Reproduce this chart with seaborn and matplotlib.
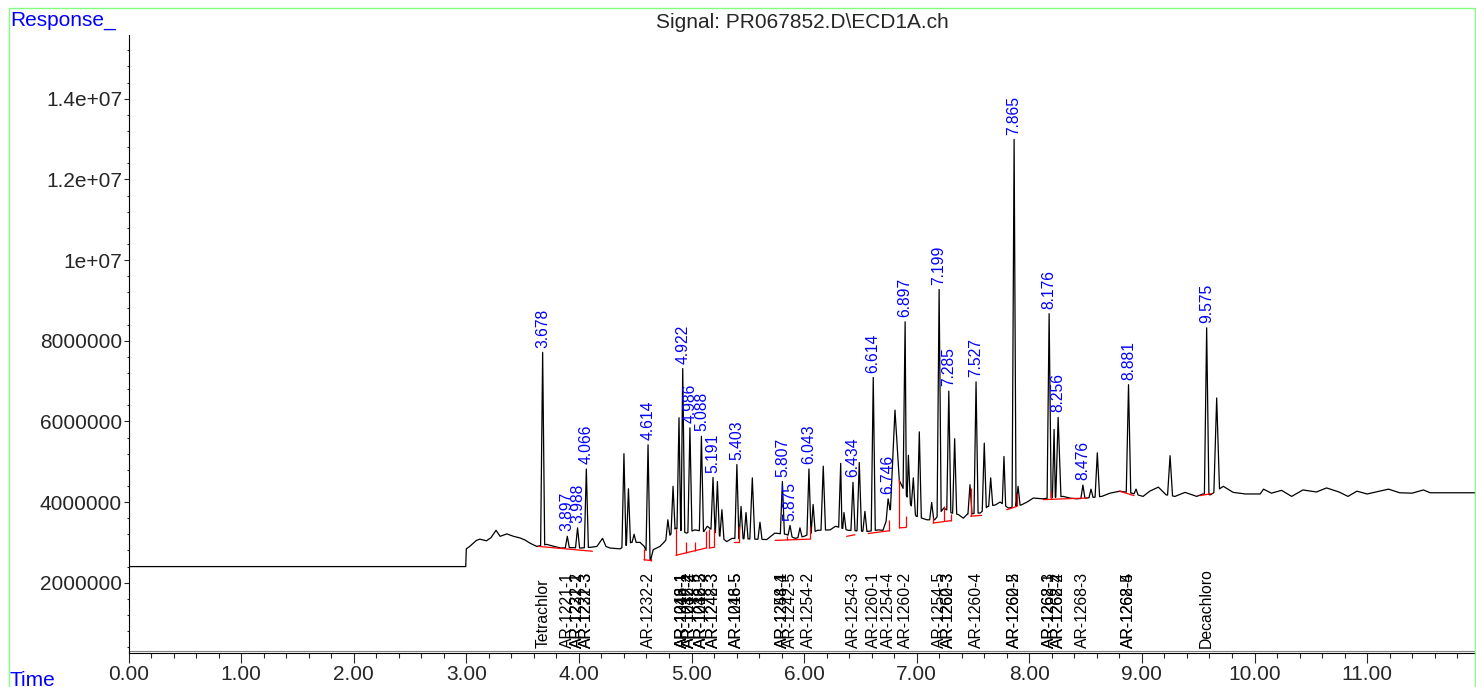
import numpy as np
import pandas as pd
import matplotlib
matplotlib.use("Agg")
import matplotlib.pyplot as plt
import matplotlib.ticker as mticker
import matplotlib.transforms as mtrans
from matplotlib.patches import Rectangle
import seaborn as sns

# ---- data (response in millions) ----
# peaks: retention time (min), apex response, half width at base (min)
peak_rt = [3.678, 3.897, 3.988, 4.066, 4.40, 4.44, 4.49, 4.614, 4.79, 4.836,
           4.889, 4.922, 4.986, 5.088, 5.191, 5.23, 5.27, 5.403, 5.44, 5.484,
           5.54, 5.608, 5.807, 5.875, 5.963, 6.043, 6.08, 6.17, 6.325, 6.354,
           6.434, 6.49, 6.54, 6.614, 6.746, 6.807, 6.897, 6.926, 6.97, 7.023,
           7.133, 7.199, 7.285, 7.337, 7.473, 7.527, 7.60, 7.657, 7.775, 7.865,
           7.90, 8.176, 8.22, 8.256, 8.476, 8.548, 8.604, 8.881, 8.948, 9.25,
           9.575, 9.664]
peak_height = [7.71, 3.15, 3.36, 4.82, 5.20, 4.33, 3.20, 5.42, 3.56, 4.39,
               6.09, 7.31, 5.84, 5.63, 4.61, 4.51, 3.81, 4.93, 3.89, 3.74,
               4.60, 3.50, 4.51, 3.42, 3.36, 4.82, 3.94, 4.89, 4.96, 3.74,
               4.49, 4.98, 3.77, 7.09, 4.08, 6.28, 8.47, 5.16, 4.60, 5.74,
               3.99, 9.27, 6.75, 5.57, 4.43, 6.98, 5.46, 4.60, 5.13, 12.99,
               4.39, 8.67, 5.80, 6.10, 4.42, 4.32, 5.22, 6.91, 4.32, 5.15,
               8.32, 6.58]
peak_halfwidth = [0.018, 0.018, 0.018, 0.018, 0.018, 0.018, 0.018, 0.018, 0.018, 0.018,
                  0.018, 0.018, 0.018, 0.018, 0.018, 0.018, 0.018, 0.018, 0.018, 0.018,
                  0.022, 0.018, 0.018, 0.018, 0.018, 0.018, 0.018, 0.020, 0.018, 0.018,
                  0.018, 0.020, 0.018, 0.018, 0.018, 0.040, 0.018, 0.018, 0.018, 0.018,
                  0.018, 0.018, 0.018, 0.018, 0.018, 0.018, 0.018, 0.018, 0.015, 0.018,
                  0.018, 0.018, 0.015, 0.025, 0.018, 0.018, 0.020, 0.020, 0.018, 0.022,
                  0.020, 0.025]

# trace level between peaks
base_t = [0.0, 2.995, 3.0, 3.03, 3.09, 3.12, 3.18, 3.22, 3.264, 3.30, 3.36, 3.42,
          3.477, 3.52, 3.566, 3.625, 3.714, 3.78, 3.84, 3.936, 4.02, 4.11, 4.16,
          4.21, 4.24, 4.276, 4.365, 4.465, 4.543, 4.58, 4.636, 4.66, 4.72, 4.755,
          4.86, 4.955, 5.03, 5.11, 5.14, 5.313, 5.36, 5.668, 5.74, 5.84, 5.92,
          6.0, 6.12, 6.23, 6.28, 6.39, 6.56, 6.66, 6.70, 6.852, 6.995, 7.09,
          7.16, 7.24, 7.31, 7.37, 7.414, 7.45, 7.565, 7.63, 7.70, 7.74, 7.815,
          7.93, 7.98, 8.036, 8.12, 8.30, 8.36, 8.42, 8.51, 8.643, 8.717, 8.805,
          8.91, 9.01, 9.07, 9.146, 9.214, 9.294, 9.383, 9.487, 9.54, 9.61,
          9.723, 9.81, 9.92, 10.05, 10.08, 10.15, 10.24, 10.33, 10.43, 10.55,
          10.64, 10.75, 10.83, 10.91, 11.0, 11.19, 11.29, 11.4, 11.5, 11.56, 11.97]
base_r = [2.40, 2.40, 2.84, 2.90, 3.05, 3.08, 3.04, 3.12, 3.30, 3.15, 3.21, 3.15,
          3.11, 3.06, 2.98, 2.90, 2.95, 2.90, 2.86, 2.87, 2.86, 2.88, 2.90,
          3.10, 2.90, 2.86, 2.84, 3.00, 3.00, 2.90, 2.55, 2.82, 2.90, 3.00,
          3.35, 3.23, 3.31, 3.27, 3.40, 3.02, 3.10, 3.07, 3.23, 3.20, 3.10,
          3.15, 3.30, 3.31, 3.40, 3.30, 3.27, 3.31, 3.30, 4.50, 3.65, 3.56,
          3.56, 3.85, 3.73, 3.69, 3.60, 3.70, 3.73, 3.89, 3.93, 4.00, 3.85,
          3.93, 4.00, 4.10, 4.08, 4.14, 4.10, 4.08, 4.10, 4.14, 4.22, 4.27,
          4.22, 4.14, 4.27, 4.37, 4.18, 4.14, 4.24, 4.14, 4.20, 4.18,
          4.39, 4.24, 4.20, 4.20, 4.32, 4.22, 4.29, 4.14, 4.30, 4.25,
          4.35, 4.25, 4.14, 4.27, 4.20, 4.32, 4.23, 4.22, 4.30, 4.23, 4.23]

# retention times printed above peaks
labelled_rt = [3.678, 3.897, 3.988, 4.066, 4.614, 4.922, 4.986, 5.088, 5.191,
               5.403, 5.807, 5.875, 6.043, 6.434, 6.614, 6.746, 6.897, 7.199,
               7.285, 7.527, 7.865, 8.176, 8.256, 8.476, 8.881, 9.575]

# compound names along the bottom
comp_rt = [3.678, 3.897, 3.988, 3.988, 4.066, 4.066, 4.614,
           4.922, 4.922, 4.922, 4.986, 4.986, 4.986, 5.088, 5.088, 5.088,
           5.191, 5.191, 5.403, 5.403, 5.807, 5.807, 5.875, 6.043, 6.434,
           6.614, 6.746, 6.897, 7.199, 7.285, 7.285, 7.527, 7.865, 7.865,
           8.176, 8.176, 8.256, 8.256, 8.476, 8.881, 8.881, 9.575]
comp_name = ["Tetrachlor", "AR-1221-1", "AR-1221-2", "AR-1232-1", "AR-1221-3", "AR-1232-3", "AR-1232-2",
             "AR-1016-1", "AR-1242-1", "AR-1248-1", "AR-1016-2", "AR-1232-4", "AR-1242-2",
             "AR-1016-3", "AR-1232-5", "AR-1248-2", "AR-1242-3", "AR-1248-3",
             "AR-1016-5", "AR-1248-5", "AR-1248-4", "AR-1254-1", "AR-1242-5", "AR-1254-2",
             "AR-1254-3", "AR-1260-1", "AR-1254-4", "AR-1260-2", "AR-1254-5",
             "AR-1260-3", "AR-1262-3", "AR-1260-4", "AR-1260-5", "AR-1262-2",
             "AR-1262-3", "AR-1268-1", "AR-1262-4", "AR-1268-2", "AR-1268-3",
             "AR-1262-5", "AR-1268-4", "Decachloro"]

# integration baselines (red)
seg_t0 = [3.64, 4.578, 4.862, 5.158, 5.377, 5.742, 6.378, 6.57, 6.846, 7.147, 7.479, 7.80, 8.124, 8.80, 9.516]
seg_r0 = [2.90, 2.57, 2.68, 2.86, 3.02, 3.05, 3.15, 3.22, 3.36, 3.48, 3.65, 3.81, 4.06, 4.27, 4.16]
seg_t1 = [4.12, 4.637, 5.129, 5.203, 5.422, 6.052, 6.452, 6.757, 6.905, 7.305, 7.577, 7.888, 8.51, 8.93, 9.62]
seg_r1 = [2.78, 2.55, 2.86, 2.88, 3.02, 3.08, 3.19, 3.29, 3.37, 3.54, 3.67, 3.89, 4.10, 4.16, 4.21]
drop_t = [4.578, 4.637, 4.862, 4.951, 5.031, 5.129, 5.158, 5.203, 5.422, 5.845,
          6.052, 6.757, 6.846, 6.905, 7.147, 7.242, 7.305, 7.479, 7.888, 8.193]
drop_lo = [2.57, 2.55, 2.68, 2.74, 2.79, 2.86, 2.86, 2.88, 3.02, 3.06,
           3.08, 3.29, 3.36, 3.37, 3.48, 3.52, 3.54, 3.65, 3.89, 4.07]
drop_hi = [2.84, 2.62, 3.32, 3.00, 3.02, 3.27, 3.32, 3.32, 3.40, 3.15,
           3.40, 3.55, 4.56, 3.65, 3.60, 3.89, 3.70, 4.35, 4.23, 4.27]

xticks = [0, 1, 2, 3, 4, 5, 6, 7, 8, 9, 10, 11]
yticks = [2e6, 4e6, 6e6, 8e6, 1e7, 1.2e7, 1.4e7]
ytick_labels = ["2000000", "4000000", "6000000", "8000000", "1e+07", "1.2e+07", "1.4e+07"]

# ---- build the trace: triangular peaks on the interpolated level ----
M = 1e6
bt = np.array(base_t)
br = np.array(base_r) * M
inside = np.zeros(len(bt), dtype=bool)
for rt, hw in zip(peak_rt, peak_halfwidth):
    inside |= (bt > rt - hw) & (bt < rt + hw)
pts_t = list(bt[~inside])
pts_r = list(br[~inside])
for rt, h, hw in zip(peak_rt, peak_height, peak_halfwidth):
    for t in (rt - hw, rt + hw):
        pts_t.append(t)
        pts_r.append(np.interp(t, bt, br))
    pts_t.append(rt)
    pts_r.append(h * M)
trace = pd.DataFrame({"time": pts_t, "response": pts_r})
trace = trace.sort_values("time", kind="stable").reset_index(drop=True)

# ---- plot ----
sns.set_style("ticks")
plt.rcParams["font.family"] = ["Liberation Sans", "DejaVu Sans"]

fig = plt.figure(figsize=(14.76, 6.87), dpi=100)
ax = fig.add_axes([0.08706, 0.0499, 0.91294, 0.8992])

sns.lineplot(data=trace, x="time", y="response", ax=ax, color="black",
             linewidth=0.9, estimator=None, sort=False)

for t0, r0, t1, r1 in zip(seg_t0, seg_r0, seg_t1, seg_r1):
    ax.plot([t0, t1], [r0 * M, r1 * M], color="red", lw=0.9, zorder=3)
ax.vlines(drop_t, np.array(drop_lo) * M, np.array(drop_hi) * M, color="red", lw=0.9, zorder=3)

heights = dict(zip(peak_rt, peak_height))
for rt in labelled_rt:
    ax.annotate(f"{rt:.3f}", (rt, heights[rt] * M), xytext=(0, 3.5),
                textcoords="offset points", rotation=90, ha="center", va="bottom",
                color="#0000ff", fontsize=11.3)

blend = mtrans.blended_transform_factory(ax.transData, ax.transAxes)
for rt, name in zip(comp_rt, comp_name):
    ax.text(rt, 0.0075, name, transform=blend, rotation=90, ha="center",
            va="bottom", fontsize=11.3, color="black")

ax.axhline(3.1e5, color="0.5", lw=0.8)

ax.set_xlim(0, 11.967)
ax.set_ylim(2.645e5, 1.558e7)
ax.set_xticks(xticks)
ax.set_xticklabels([f"{v:.2f}" for v in xticks])
ax.set_yticks(yticks)
ax.set_yticklabels(ytick_labels)
ax.xaxis.set_minor_locator(mticker.MultipleLocator(0.2))
ax.yaxis.set_minor_locator(mticker.MultipleLocator(4e5))
ax.tick_params(axis="x", which="major", length=7, width=0.8, labelsize=15, pad=2)
ax.tick_params(axis="x", which="minor", length=3.5, width=0.8)
ax.tick_params(axis="y", which="major", length=3.6, width=0.8, labelsize=15, pad=1)
ax.tick_params(axis="y", which="minor", length=1.5, width=0.8)
ax.set_xlabel("")
ax.set_ylabel("")
sns.despine(ax=ax)
for s in ("left", "bottom"):
    ax.spines[s].set_linewidth(0.8)
    ax.spines[s].set_color("black")

fig.text(0.5434, 1 - 22 / 687, "Signal: PR067852.D\\ECD1A.ch", ha="center",
         va="center", fontsize=15)
fig.text(10 / 1476, 1 - 20 / 687, "Response_", ha="left", va="center",
         fontsize=15, color="#0000ff")
fig.text(10 / 1476, 1 - 680 / 687, "Time", ha="left", va="center",
         fontsize=15, color="#0000ff")

fig.patches.append(Rectangle((9 / 1476, -0.05), 1466 / 1476, 1.05 - 8 / 687,
                             transform=fig.transFigure, fill=False,
                             edgecolor="#80ff80", lw=1))

fig.savefig("out.png", dpi=100)
